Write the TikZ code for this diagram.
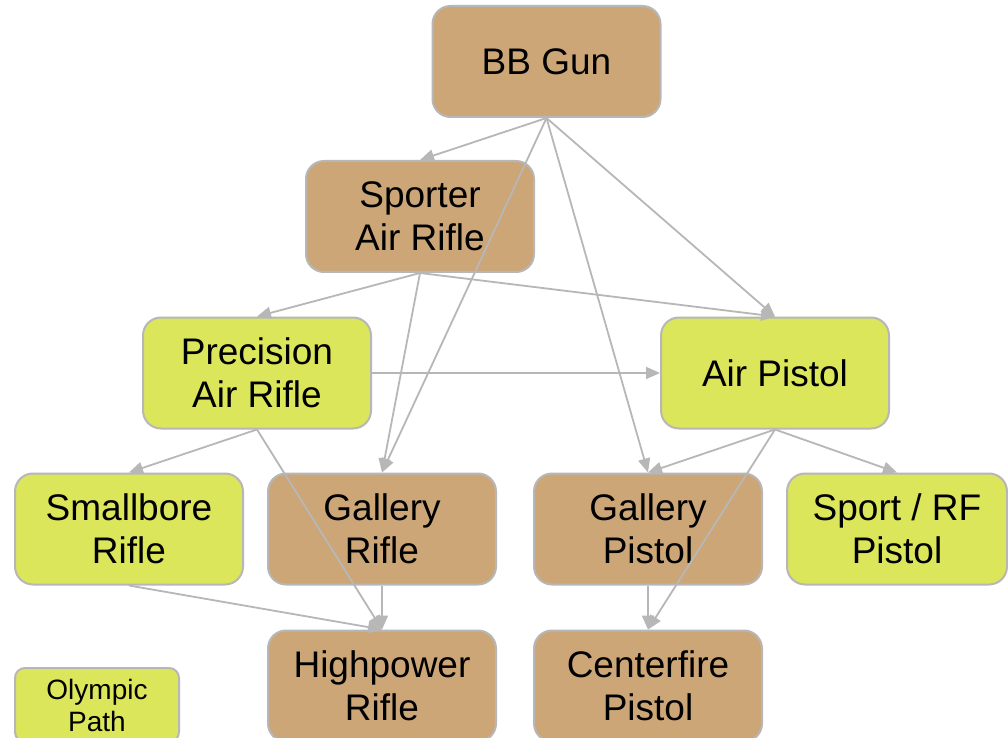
\documentclass[tikz,border=0pt]{standalone}
\usepackage{fontspec}
\setmainfont{Liberation Sans}
\usepackage{tikz}
\usetikzlibrary{arrows.meta}
\definecolor{tan1}{RGB}{204, 166, 119}
\definecolor{lime1}{RGB}{220, 230, 90}
\definecolor{gray1}{RGB}{183, 183, 183}

\begin{document}
\begin{tikzpicture}[x=0.5pt, y=-0.5pt,
  gunbox/.style={draw=gray1, line width=1pt, rounded corners=9pt, minimum width=114pt, minimum height=55.5pt, inner sep=0pt, align=center, font=\fontsize{18.5}{21.5}\selectfont},
  tanbox/.style={gunbox, fill=tan1},
  limebox/.style={gunbox, fill=lime1},
  link/.style={draw=gray1, line width=0.9pt, -{Triangle[length=7pt, width=6pt]}}]
  \clip (0,0) rectangle (1008,738);
  \fill[white] (0,0) rectangle (1008,738);

  % boxes
  \node[tanbox] (bb) at (546.5,61.5) {BB Gun};
  \node[tanbox] (sporter) at (420,216.5) {Sporter\\Air Rifle};
  \node[limebox] (precision) at (257,373) {Precision\\Air Rifle};
  \node[limebox] (airpistol) at (775,373) {Air Pistol};
  \node[limebox] (smallbore) at (129,529) {Smallbore\\Rifle};
  \node[tanbox] (galleryrifle) at (382,529) {Gallery\\Rifle};
  \node[tanbox] (gallerypistol) at (648,529) {Gallery\\Pistol};
  \node[limebox, minimum width=110pt] (sportrf) at (897,529) {Sport / RF\\Pistol};
  \node[tanbox] (highpower) at (382,686) {Highpower\\Rifle};
  \node[tanbox] (centerfire) at (648,686) {Centerfire\\Pistol};
  \node[limebox, minimum width=82pt, minimum height=37pt, rounded corners=5pt, font=\fontsize{14}{16}\selectfont] (legend) at (97,705) {Olympic\\Path};

  % links
  \draw[link] (bb.south) -- (sporter.north);
  \draw[link] (bb.south) -- (galleryrifle.north);
  \draw[link] (bb.south) -- (gallerypistol.north);
  \draw[link] (bb.south) -- (airpistol.north);
  \draw[link] (sporter.south) -- (precision.north);
  \draw[link] (sporter.south) -- (galleryrifle.north);
  \draw[link] (sporter.south) -- (airpistol.north);
  \draw[link] (precision.east) -- (airpistol.west);
  \draw[link] (precision.south) -- (smallbore.north);
  \draw[link] (precision.south) -- (highpower.north);
  \draw[link] (airpistol.south) -- (gallerypistol.north);
  \draw[link] (airpistol.south) -- (sportrf.north);
  \draw[link] (airpistol.south) -- (centerfire.north);
  \draw[link] (smallbore.south) -- (highpower.north);
  \draw[link] (galleryrifle.south) -- (highpower.north);
  \draw[link] (gallerypistol.south) -- (centerfire.north);
\end{tikzpicture}
\end{document}
